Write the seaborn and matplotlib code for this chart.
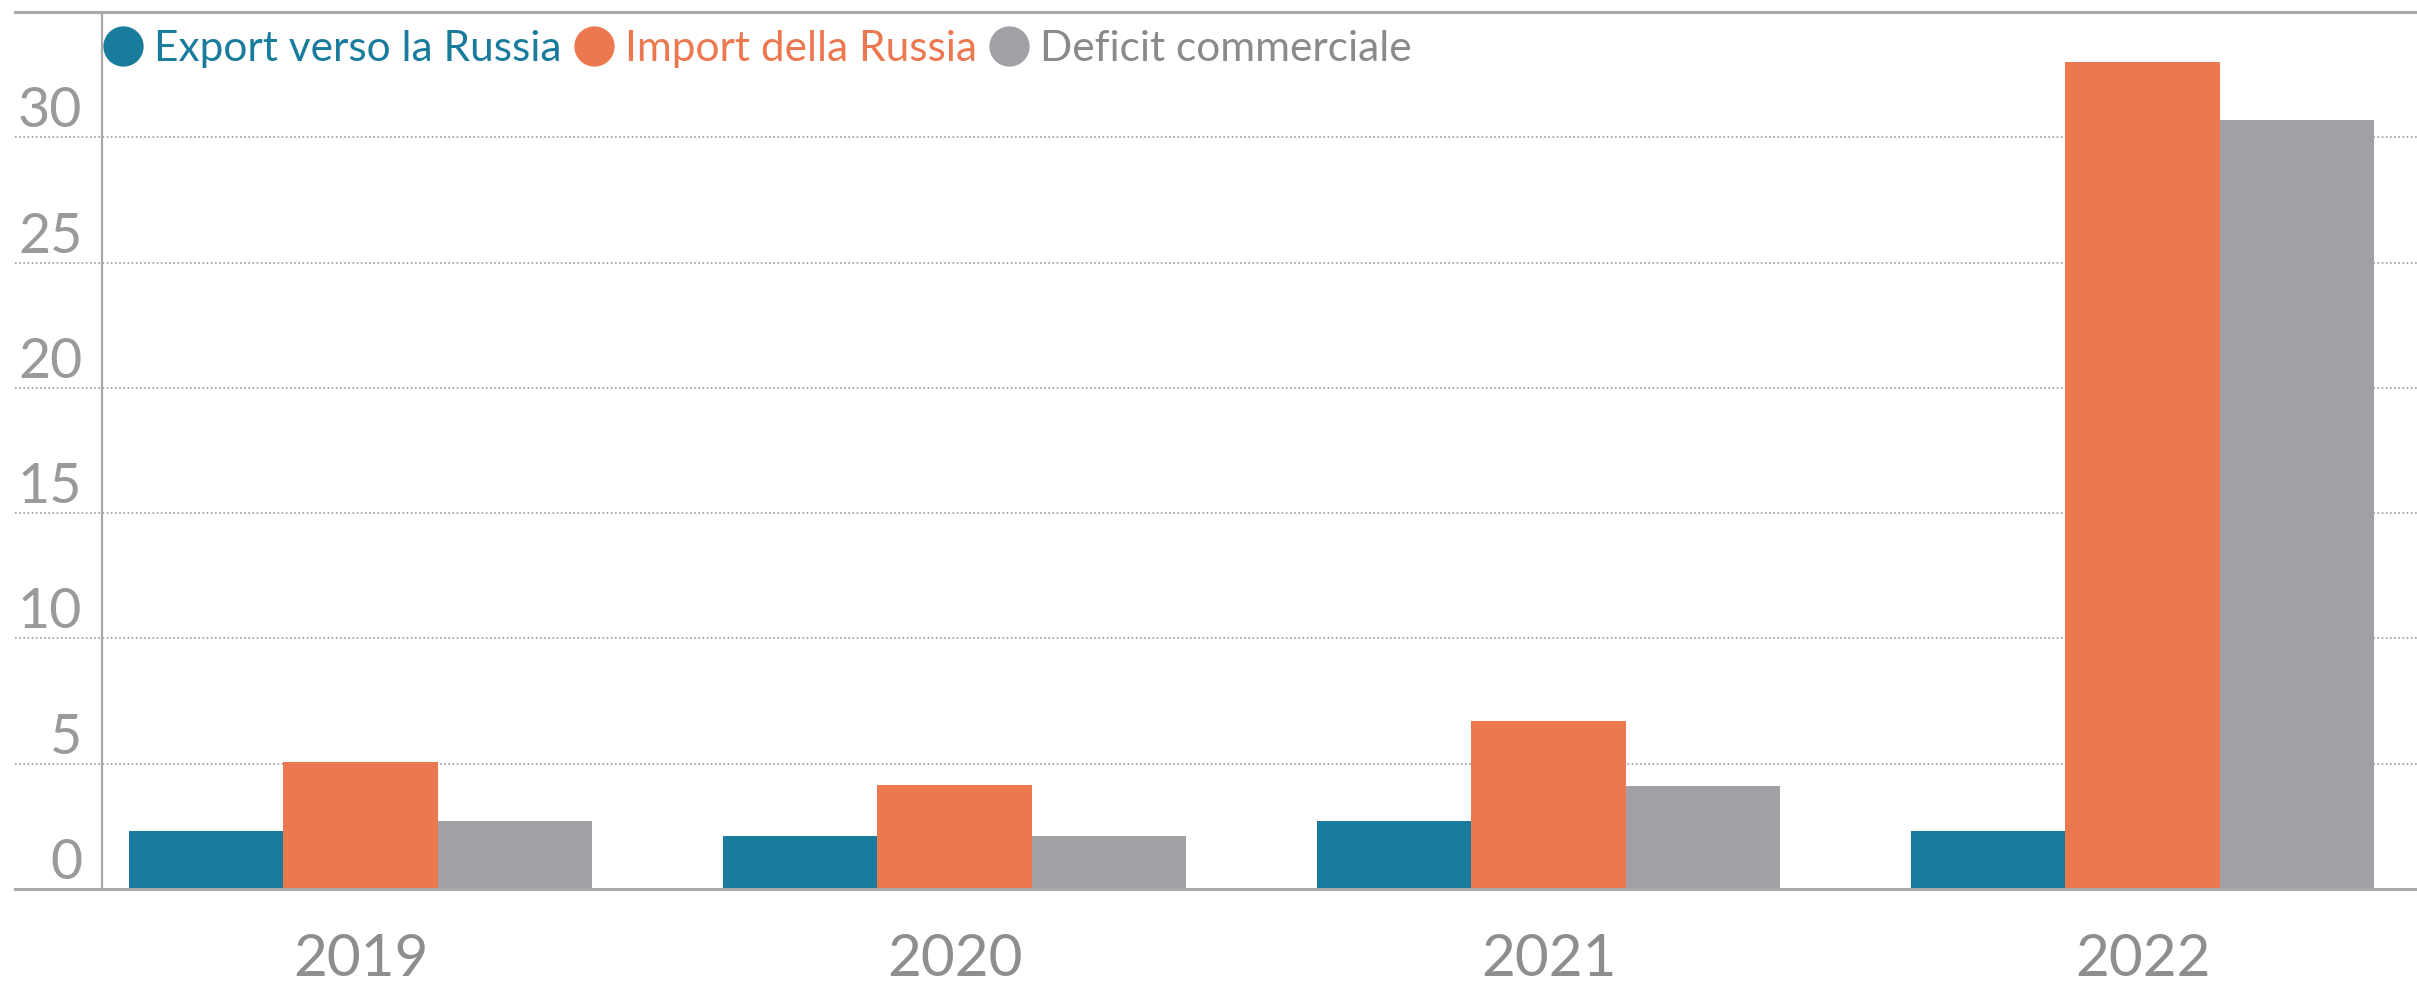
import pandas as pd
import seaborn as sns
import matplotlib.pyplot as plt
from matplotlib.lines import Line2D

# values (billions)
anni = ['2019', '2020', '2021', '2022']
export_russia = [2.3, 2.1, 2.7, 2.3]
import_russia = [5.05, 4.15, 6.7, 33.0]
deficit = [2.7, 2.1, 4.1, 30.7]

serie = ['Export verso la Russia', 'Import della Russia', 'Deficit commerciale']
colori = ['#1a7c9c', '#ec7850', '#a0a0a5']
y_ticks = [0, 5, 10, 15, 20, 25, 30]

df = pd.DataFrame({'anno': anni,
                   serie[0]: export_russia,
                   serie[1]: import_russia,
                   serie[2]: deficit})
df = df.melt(id_vars='anno', var_name='serie', value_name='valore')

sns.set_style('white')
plt.rcParams['font.family'] = ['Lato', 'DejaVu Sans']

W, H = 2417, 983
fig = plt.figure(figsize=(W / 100, H / 100), dpi=100)
ax = fig.add_axes([15 / W, 94 / H, 2402 / W, 877 / H])

sns.barplot(data=df, x='anno', y='valore', hue='serie', hue_order=serie,
            palette=colori, width=0.78, saturation=1, legend=False,
            linewidth=0, ax=ax)

ax.set_xlim(-0.582, 3.462)
ax.set_ylim(0, 35)
ax.set_xlabel('')
ax.set_ylabel('')

# spines
for s in ['top', 'bottom', 'left']:
    ax.spines[s].set_color('#a9a9a9')
ax.spines['top'].set_linewidth(2.2)
ax.spines['bottom'].set_linewidth(2.2)
ax.spines['left'].set_linewidth(1.6)
ax.spines['right'].set_visible(False)
ax.spines['left'].set_position(('data', -0.436))

# dotted grid
ax.set_yticks(y_ticks)
ax.yaxis.grid(True, linestyle=(0, (1, 1.5)), color='#9a9a9a', linewidth=1.2)
ax.set_axisbelow(True)

ax.tick_params(axis='y', length=0, pad=14, labelsize=40, labelcolor='#9a9a9a')
for lab in ax.get_yticklabels():
    lab.set_verticalalignment('bottom')
ax.tick_params(axis='x', length=0, pad=32, labelsize=42, labelcolor='#8e8e8e')

handles = [Line2D([], [], marker='o', linestyle='', markersize=28,
                  markerfacecolor=c, markeredgecolor=c) for c in colori]
ax.legend(handles, serie, loc='upper left', bbox_to_anchor=(0.0365, 0.98),
          ncol=3, frameon=False, fontsize=30.5, handlelength=0.95,
          handletextpad=0.25, columnspacing=0.3, borderpad=0, borderaxespad=0,
          labelcolor=[colori[0], colori[1], '#8a8a8a'])

plt.savefig('out.png', dpi=100)
